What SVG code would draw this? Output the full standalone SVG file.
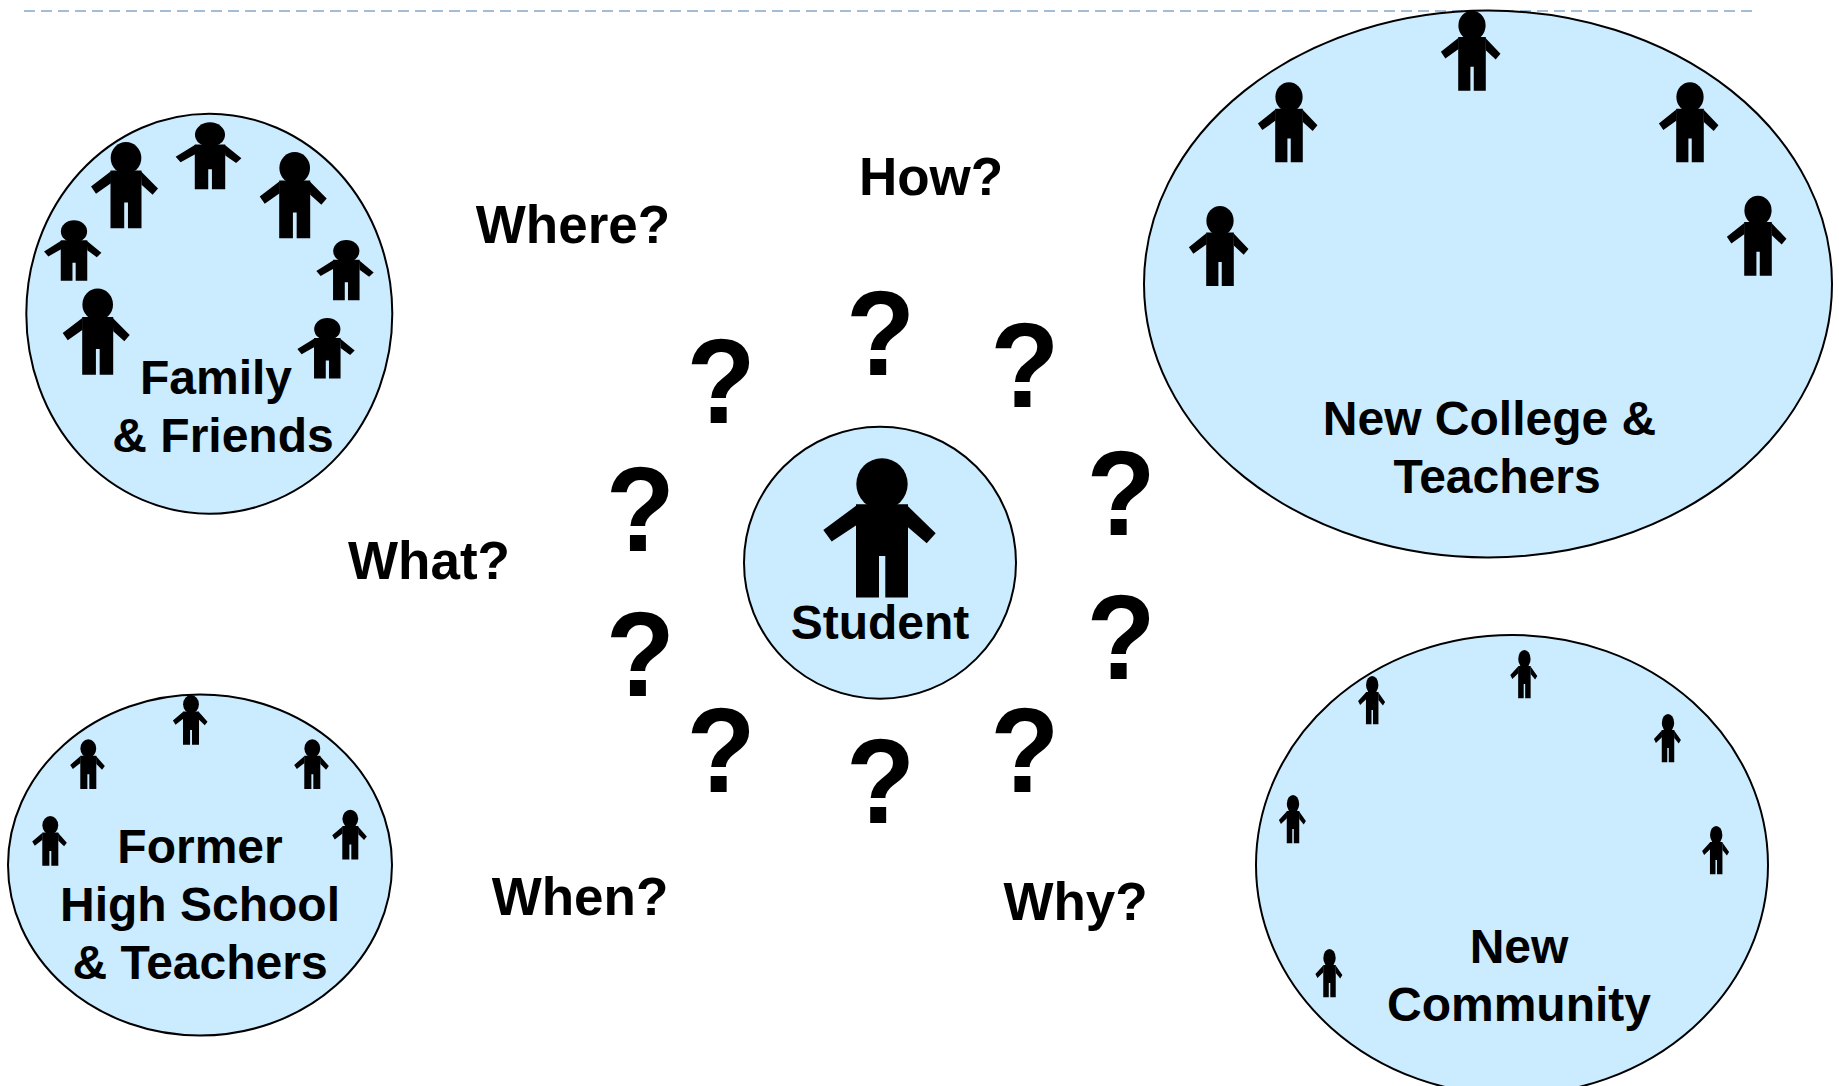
<svg xmlns="http://www.w3.org/2000/svg" width="1839" height="1086" viewBox="0 0 1839 1086">
<style>
.c{fill:#cbebff;stroke:#000;stroke-width:2}
text{font-family:"Liberation Sans",Arial,sans-serif;font-weight:bold;fill:#000;text-anchor:middle}
.l{font-size:48px}
.q{font-size:53px}
.m{font-size:121px}
</style>
<defs>
<g id="p"><ellipse cx="0" cy="25.7" rx="25.7" ry="25.7"/><path d="M-26 46H26V139.3H3.3V97.7H-3V139.3H-26Z"/><path d="M-25.3 47L-58.7 71.7L-50.3 83.3L-25.3 66.7ZM25 47L53.7 75L44.7 85L26 69Z"/></g>
<text id="m" class="m" transform="scale(.935 1)">?</text>
</defs>
<rect width="1839" height="1086" fill="#fff"/>
<line x1="24" y1="11" x2="1755" y2="11" stroke="#a3bdd6" stroke-width="2" stroke-dasharray="11 6"/>
<g id="family"><ellipse class="c" cx="209.3" cy="313.7" rx="183" ry="200"/>
<use href="#p" transform="translate(126 142) scale(.596 .62)"/>
<use href="#p" transform="translate(210 122.3) scale(.585 .48)"/>
<use href="#p" transform="translate(294.7 152) scale(.596 .62)"/>
<use href="#p" transform="translate(346.3 239.9) scale(.51 .434)"/>
<use href="#p" transform="translate(327.3 318) scale(.51 .434)"/>
<use href="#p" transform="translate(97.7 288.5) scale(.596 .62)"/>
<use href="#p" transform="translate(74 220.3) scale(.51 .434)"/>
<text class="l" x="216" y="394">Family</text><text class="l" x="223" y="452">&amp; Friends</text></g>
<g id="student"><circle class="c" cx="880" cy="562.7" r="136"/><use href="#p" transform="translate(882 458.3)"/><text class="l" x="880" y="639">Student</text></g>
<g id="college"><ellipse class="c" cx="1488" cy="284" rx="344" ry="273.5"/>
<use href="#p" transform="translate(1472 10.7) scale(.53 .574)"/>
<use href="#p" transform="translate(1289 82.3) scale(.53 .574)"/>
<use href="#p" transform="translate(1690 82.3) scale(.53 .574)"/>
<use href="#p" transform="translate(1758 195.7) scale(.53 .574)"/>
<use href="#p" transform="translate(1220 206) scale(.53 .574)"/>
<text class="l" x="1489.5" y="435">New College &amp;</text><text class="l" x="1497" y="493">Teachers</text></g>
<g id="school"><ellipse class="c" cx="200" cy="865" rx="192" ry="170.5"/>
<use href="#p" transform="translate(191 695) scale(.308 .357)"/>
<use href="#p" transform="translate(88.3 739.3) scale(.308 .357)"/>
<use href="#p" transform="translate(312.3 739.3) scale(.308 .357)"/>
<use href="#p" transform="translate(350.3 809.7) scale(.308 .357)"/>
<use href="#p" transform="translate(50.3 816) scale(.308 .357)"/>
<text class="l" x="200" y="863">Former</text><text class="l" x="200" y="921">High School</text><text class="l" x="200" y="979">&amp; Teachers</text></g>
<g id="community"><ellipse class="c" cx="1512" cy="865" rx="256" ry="230"/>
<use href="#p" transform="translate(1524.4 650) scale(.24 .347)"/>
<use href="#p" transform="translate(1372.2 676) scale(.24 .347)"/>
<use href="#p" transform="translate(1668 714) scale(.24 .347)"/>
<use href="#p" transform="translate(1716.2 826) scale(.24 .347)"/>
<use href="#p" transform="translate(1293 795) scale(.24 .347)"/>
<use href="#p" transform="translate(1329.5 949) scale(.24 .347)"/>
<text class="l" x="1519" y="963">New</text><text class="l" x="1519" y="1021">Community</text></g>
<g id="labels"><text class="q" x="573" y="243">Where?</text><text class="q" x="931" y="195">How?</text><text class="q" x="429" y="579">What?</text><text class="q" x="580" y="915">When?</text><text class="q" x="1075.5" y="920">Why?</text></g>
<g id="questions">
<use href="#m" x="880.6" y="375.3"/>
<use href="#m" x="1024.9" y="407"/>
<use href="#m" x="1121" y="534.8"/>
<use href="#m" x="1121" y="679"/>
<use href="#m" x="1024.9" y="791.6"/>
<use href="#m" x="880.6" y="823.3"/>
<use href="#m" x="721" y="791.6"/>
<use href="#m" x="640.2" y="695.5"/>
<use href="#m" x="640.2" y="551.2"/>
<use href="#m" x="721" y="423.4"/>
</g>
</svg>
